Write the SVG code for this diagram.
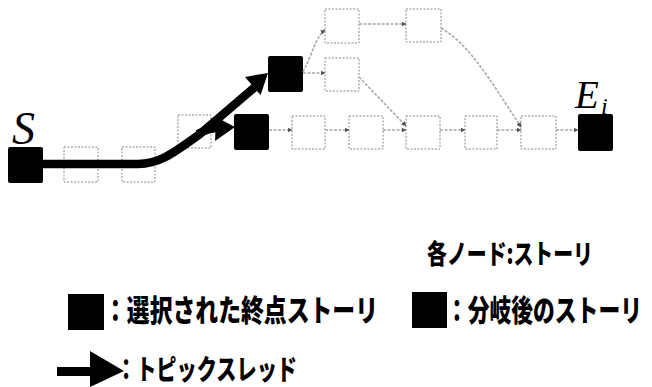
<svg xmlns="http://www.w3.org/2000/svg" width="652" height="387" viewBox="0 0 652 387">
<defs>
<style>
.blk{fill:#000;}
.gbox{fill:none;stroke:#8a8a8a;stroke-width:1;stroke-dasharray:2 1.5;}
.gline{fill:none;stroke:#a8a8a8;stroke-width:1.6;stroke-dasharray:3 1.5;}
.thick{fill:none;stroke:#000;stroke-width:8.5;}
.math{font-family:"Liberation Serif","DejaVu Serif",serif;font-style:italic;fill:#000;}
.jp{font-family:"Noto Sans CJK JP","Noto Sans",sans-serif;font-weight:900;fill:#000;}
</style>
<marker id="ga" viewBox="0 0 10 10" refX="9" refY="5" markerWidth="5" markerHeight="5" orient="auto" markerUnits="userSpaceOnUse">
<path d="M0,0 L10,5 L0,10 z" fill="#555"/>
</marker>
</defs>
<rect width="652" height="387" fill="#fff"/>

<g id="node-S"><rect class="blk" x="8" y="147" width="35" height="36" rx="2"/><text class="math" x="12" y="144" font-size="46">S</text></g>
<g id="node-g1"><rect class="gbox" x="64" y="147" width="34" height="35"/></g>
<g id="node-g2"><rect class="gbox" x="122" y="147" width="33" height="35"/></g>
<g id="node-g3"><rect class="gbox" x="178" y="115" width="33" height="33"/></g>
<g id="node-M"><rect class="blk" x="234" y="114" width="35" height="36" rx="2"/></g>
<g id="node-T"><rect class="blk" x="268" y="56" width="35" height="36" rx="2"/></g>
<g id="node-t1"><rect class="gbox" x="325" y="9" width="34" height="34"/></g>
<g id="node-t2"><rect class="gbox" x="406" y="9" width="35" height="33"/></g>
<g id="node-m1"><rect class="gbox" x="325" y="58" width="34" height="33"/></g>
<g id="node-b1"><rect class="gbox" x="292" y="116" width="33" height="33"/></g>
<g id="node-b2"><rect class="gbox" x="349" y="116" width="34" height="33"/></g>
<g id="node-b3"><rect class="gbox" x="406" y="116" width="34" height="33"/></g>
<g id="node-b4"><rect class="gbox" x="465" y="116" width="32" height="33"/></g>
<g id="node-b5"><rect class="gbox" x="521" y="116" width="35" height="33"/></g>
<g id="node-E"><rect class="blk" x="578" y="114" width="35" height="37" rx="2"/><text class="math" x="575" y="108" font-size="39">E</text><text class="math" x="601" y="114" font-size="24">i</text></g>

<g id="connectors">
<path class="gline" marker-end="url(#ga)" d="M269,130 L292,130"/>
<path class="gline" marker-end="url(#ga)" d="M325,130 L349,130"/>
<path class="gline" marker-end="url(#ga)" d="M383,130 L406,130"/>
<path class="gline" marker-end="url(#ga)" d="M440,130 L465,130"/>
<path class="gline" marker-end="url(#ga)" d="M497,130 L521,130"/>
<path class="gline" marker-end="url(#ga)" d="M556,130 L578,130"/>
<path class="gline" marker-end="url(#ga)" d="M303,72 C312,55 316,36 325,30"/>
<path class="gline" marker-end="url(#ga)" d="M303,73 L325,73"/>
<path class="gline" marker-end="url(#ga)" d="M359,24 L406,24"/>
<path class="gline" marker-end="url(#ga)" d="M441,28 C470,45 490,80 521,127"/>
<path class="gline" marker-end="url(#ga)" d="M359,77 L406,126"/>
<path class="thick" d="M43,164 L138,164 C160,164 175,152 200,134 L255,87"/>
<polygon class="blk" points="268,73 260.6,95.1 245,76.9"/>
<path class="thick" d="M198,134 Q208,128 220,128"/>
<polygon class="blk" points="235,127 216,117 215,141"/>
</g>

<g id="legend">
<text class="jp" x="427" y="264" font-size="27" textLength="166" lengthAdjust="spacingAndGlyphs">各ノード:ストーリ</text>
<rect class="blk" x="68" y="294" width="36" height="36"/>
<text class="jp" x="104" y="321" font-size="30" textLength="274" lengthAdjust="spacingAndGlyphs">：選択された終点ストーリ</text>
<rect class="blk" x="412" y="292" width="35" height="36"/>
<text class="jp" transform="translate(446,321) scale(0.726,1)" x="0" y="0" font-size="30">：分岐後のストーリ</text>
<rect class="blk" x="57" y="367" width="35" height="9"/>
<polygon class="blk" points="90,351 90,387 124,371"/>
<text class="jp" x="116" y="380" font-size="28" textLength="181" lengthAdjust="spacingAndGlyphs">：トピックスレッド</text>
</g>
</svg>
